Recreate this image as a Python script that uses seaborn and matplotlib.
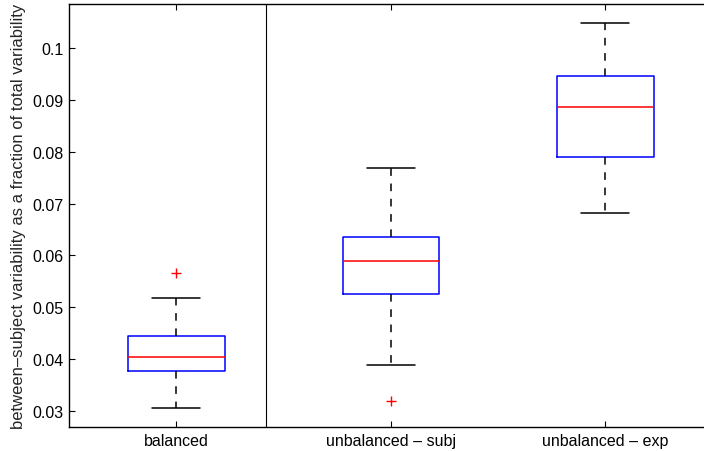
import numpy as np
import pandas as pd
import matplotlib
matplotlib.use("Agg")
import matplotlib.pyplot as plt
import seaborn as sns

# ---- data ----
categories = ["balanced", "unbalanced \u2013 subj", "unbalanced \u2013 exp"]
whisker_low = [0.0306, 0.0388, 0.0681]
q1 = [0.0377, 0.0526, 0.0789]
median = [0.0404, 0.0589, 0.0887]
q3 = [0.0445, 0.0635, 0.0947]
whisker_high = [0.0518, 0.0769, 0.1048]
outliers = [[0.0566], [0.0320], []]

ytick_vals = [0.03, 0.04, 0.05, 0.06, 0.07, 0.08, 0.09, 0.1]
ytick_labels = ["0.03", "0.04", "0.05", "0.06", "0.07", "0.08", "0.09", "0.1"]
ylabel = "between\u2013subject variability as a fraction of total variability"

# build a small sample per group whose five-number summary reproduces the stats
rows = []
for i, cat in enumerate(categories):
    vals = [whisker_low[i], q1[i], q1[i], median[i], median[i], median[i],
            q3[i], q3[i], whisker_high[i]]
    if outliers[i]:
        o = outliers[i][0]
        if o > q3[i]:
            vals = [whisker_low[i], q1[i], q1[i], median[i], median[i],
                    median[i], q3[i], whisker_high[i], o]
        else:
            vals = [o, whisker_low[i], q1[i], median[i], median[i],
                    median[i], q3[i], q3[i], whisker_high[i]]
    for v in vals:
        rows.append({"group": cat, "value": v})
df = pd.DataFrame(rows)

sns.set_style("white")
plt.rcParams["font.family"] = ["Liberation Sans", "DejaVu Sans"]

fig = plt.figure(figsize=(7.04, 4.52), dpi=100)
W, H = 704, 452
left, right, top, bottom = 69, 712.6, 5, 428
ax = fig.add_axes([left / W, (H - bottom) / H, (right - left) / W, (bottom - top) / H])

sns.boxplot(data=df, x="group", y="value", order=categories, ax=ax,
            width=0.45, fill=False, color="blue", whis=1.5,
            boxprops=dict(color="blue", linewidth=1.1),
            medianprops=dict(color="red", linewidth=1.1),
            whiskerprops=dict(color="black", linestyle=(0, (5, 5)), linewidth=1.1),
            capprops=dict(color="black", linewidth=1.1),
            flierprops=dict(marker="+", markeredgecolor="red", markersize=7,
                            markeredgewidth=1.0, linestyle="none"))

ax.axvline(0.42, color="black", linewidth=0.8)

ax.set_xlim(-0.5, 2.5)
ax.set_ylim(0.0269, 0.1085)
ax.set_yticks(ytick_vals)
ax.set_yticklabels(ytick_labels)
ax.set_xlabel("")
ax.set_ylabel(ylabel, fontsize=12)
ax.yaxis.set_label_coords(26 / W, 0.522, transform=fig.transFigure)

ax.tick_params(axis="both", direction="in", length=4, width=0.8,
               labelsize=11.5, colors="black", pad=4)
ax.tick_params(axis="x", top=True, bottom=True)
ax.tick_params(axis="y", left=True, right=True)
for s in ax.spines.values():
    s.set_color("black")
    s.set_linewidth(1.0)

fig.savefig("out.png", dpi=100)
